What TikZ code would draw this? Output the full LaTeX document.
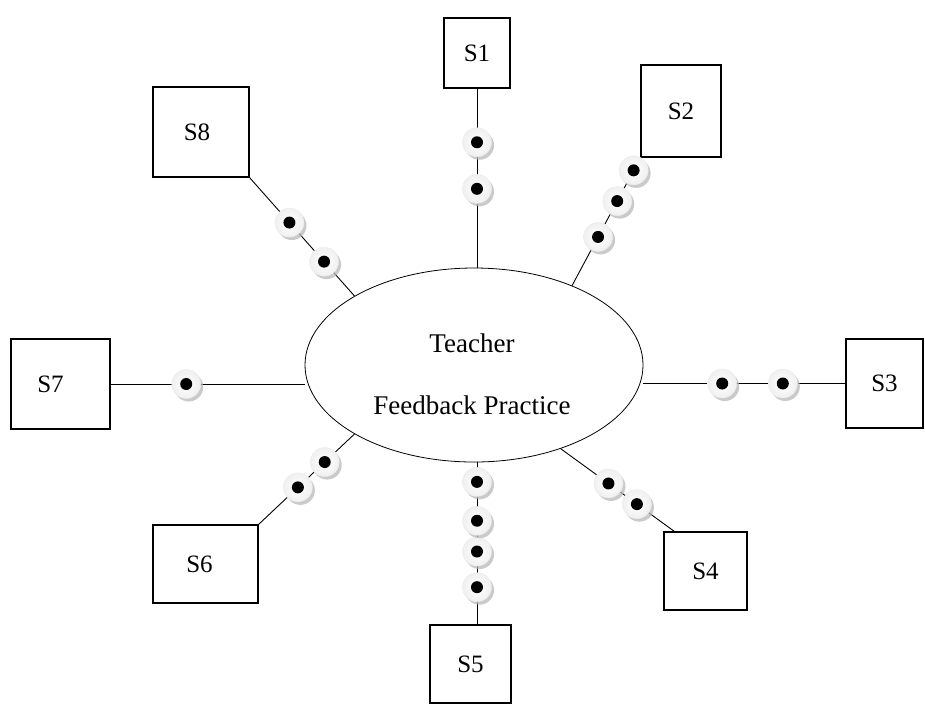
\documentclass[tikz,border=0pt]{standalone}
\usepackage{fontspec}
\setmainfont{Liberation Serif}
\usetikzlibrary{shapes.geometric,shadows,calc}
\tikzset{
  sbox/.style={draw, line width=1.1pt, fill=white, inner sep=0pt, font=\fontsize{25}{29}\selectfont},
  link/.style={draw, line width=0.9pt},
  bead/.style={circle, minimum size=29pt, inner sep=0pt, draw=gray!15, line width=0.4pt,
    inner color=white, outer color=gray!12,
    drop shadow={shadow xshift=2.5pt, shadow yshift=-3pt, fill=gray!55, opacity=0.75},
    path picture={\fill[black] (path picture bounding box.center) circle (6pt);}},
  lbl/.style={font=\fontsize{27}{31}\selectfont, inner sep=0pt}
}
\begin{document}
\begin{tikzpicture}[x=1pt, y=-1pt]
\useasboundingbox[fill=white] (0,0) rectangle (925,713);
% central ellipse
\node[ellipse, draw, line width=0.8pt, minimum width=338pt, minimum height=194pt] (T) at (474,365) {};
\node[lbl] (t1) at (472,343) {Teacher};
\node[lbl] (t2) at (472,405) {Feedback Practice};
% boxes
\node[sbox, minimum width=66pt, minimum height=70pt] (S1) at (477,53) {S1};
\node[sbox, minimum width=80pt, minimum height=92pt] (S2) at (681,111) {S2};
\node[sbox, minimum width=77pt, minimum height=89pt] (S3) at (884.5,383.5) {S3};
\node[sbox, minimum width=83pt, minimum height=78pt] (S4) at (705.5,571) {S4};
\node[sbox, minimum width=81pt, minimum height=78pt] (S5) at (470.5,664) {S5};
\node[sbox, minimum width=105pt, minimum height=78pt] (S6) at (205.5,564) {\hspace*{-12pt}S6};
\node[sbox, minimum width=99pt, minimum height=90pt] (S7) at (60.5,384) {\hspace*{-20pt}S7};
\node[sbox, minimum width=96pt, minimum height=90pt] (S8) at (201,132) {\hspace*{-8pt}S8};
\coordinate (S4in) at ($(S4.north west)+(11,0)$);
\coordinate (S5in) at ($(S5.north)+(6.5,0)$);
% connectors with beads
\path[link] (S1.south) -- (S1.south |- T.north)
  node[bead, pos=0.30] (b11) {} node[bead, pos=0.56] (b12) {};
\path[link] (S2.south west) -- (T.39)
  node[bead, pos=0.10] (b21) {} node[bead, pos=0.34] (b22) {} node[bead, pos=0.62] (b23) {};
\path[link] (S3.west) -- (S3.west -| T.east)
  node[bead, pos=0.31] (b31) {} node[bead, pos=0.61] (b32) {};
\path[link] (S4in) -- (T.-44)
  node[bead, pos=0.33] (b41) {} node[bead, pos=0.58] (b42) {};
\path[link] (S5in) -- (S5in |- T.south)
  node[bead, pos=0.23] (b51) {} node[bead, pos=0.45] (b52) {} node[bead, pos=0.64] (b53) {} node[bead, pos=0.88] (b54) {};
\path[link] (S6.north east) -- (T.210)
  node[bead, pos=0.41] (b61) {} node[bead, pos=0.69] (b62) {};
\path[link] (S7.east) -- (S7.east -| T.west)
  node[bead, pos=0.39] (b71) {};
\path[link] (S8.south east) -- (T.150)
  node[bead, pos=0.38] (b81) {} node[bead, pos=0.71] (b82) {};
\end{tikzpicture}
\end{document}
